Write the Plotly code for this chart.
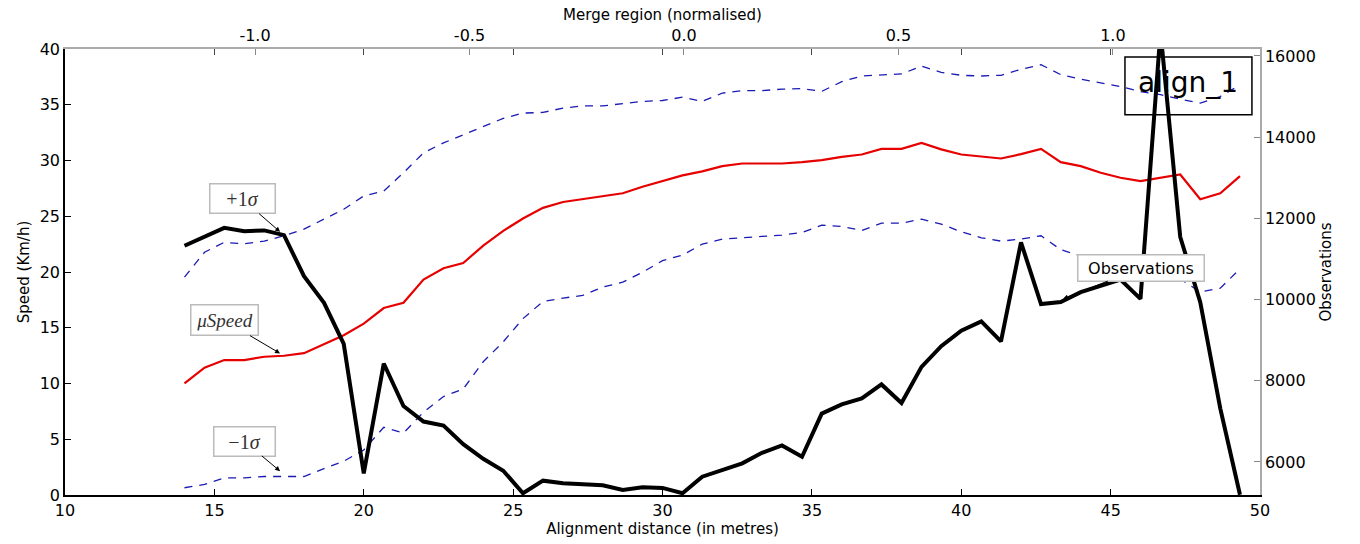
import plotly.graph_objects as go

# ---------------- data ----------------
distance = [14.0, 14.67, 15.33, 16.0, 16.67, 17.33, 18.0, 18.67, 19.33, 20.0,
            20.67, 21.33, 22.0, 22.67, 23.33, 24.0, 24.67, 25.33, 26.0, 26.67,
            27.33, 28.0, 28.67, 29.33, 30.0, 30.67, 31.33, 32.0, 32.67, 33.33,
            34.0, 34.67, 35.33, 36.0, 36.67, 37.33, 38.0, 38.67, 39.33, 40.0,
            40.67, 41.33, 42.0, 42.67, 43.33, 44.0, 44.67, 45.33, 46.0, 46.67,
            47.33, 48.0, 48.67, 49.33]

mean_speed = [10.02, 11.42, 12.10, 12.10, 12.40, 12.49, 12.72, 13.50, 14.33, 15.37,
              16.77, 17.24, 19.32, 20.34, 20.81, 22.36, 23.69, 24.80, 25.75, 26.28,
              26.52, 26.76, 27.06, 27.65, 28.19, 28.66, 29.02, 29.49, 29.73, 29.70,
              29.73, 29.85, 30.03, 30.33, 30.54, 31.04, 31.04, 31.58, 31.00, 30.54,
              30.33, 30.18, 30.57, 31.04, 29.85, 29.49, 28.90, 28.45, 28.15, 28.45,
              28.75, 26.52, 27.06, 28.60]

upper_sigma = [19.54, 21.77, 22.66, 22.53, 22.77, 23.25, 23.84, 24.74, 25.63, 26.82,
               27.26, 28.90, 30.69, 31.58, 32.32, 33.00, 33.78, 34.25, 34.31, 34.70,
               34.90, 34.90, 35.10, 35.30, 35.38, 35.68, 35.30, 36.04, 36.27, 36.27,
               36.40, 36.45, 36.20, 37.07, 37.58, 37.70, 37.76, 38.47, 37.90, 37.64,
               37.58, 37.64, 38.18, 38.59, 37.70, 37.29, 36.93, 36.63, 36.18, 35.90,
               35.50, 35.15, 35.74, 36.78]

lower_sigma = [0.65, 0.95, 1.54, 1.54, 1.66, 1.66, 1.66, 2.37, 3.03, 4.04,
               6.07, 5.56, 7.43, 8.83, 9.51, 11.95, 13.74, 15.82, 17.36, 17.66,
               17.90, 18.64, 19.09, 19.98, 21.02, 21.52, 22.50, 22.95, 23.10, 23.19,
               23.31, 23.55, 24.20, 24.09, 23.73, 24.38, 24.38, 24.74, 24.30, 23.60,
               23.07, 22.77, 22.95, 23.25, 22.00, 21.46, 20.87, 20.28, 19.98, 19.63,
               19.38, 18.20, 18.55, 20.28]

observations = [11324, 11550, 11766, 11684, 11702, 11586, 10574, 9919, 8906, 5719,
                8423, 7376, 6994, 6896, 6437, 6077, 5783, 5228, 5538, 5473,
                5457, 5424, 5310, 5375, 5359, 5228, 5636, 5800, 5964, 6224,
                6405, 6126, 7190, 7418, 7565, 7908, 7450, 8342, 8850, 9232,
                9460, 8970, 11407, 9887, 9936, 10181, 10343, 10490, 10017, 16600,
                11540, 9936, 7320, 5190]

x_ticks = [10, 15, 20, 25, 30, 35, 40, 45, 50]
speed_ticks = [0, 5, 10, 15, 20, 25, 30, 35, 40]
obs_ticks = [6000, 8000, 10000, 12000, 14000, 16000]
obs_labels = ["6000", "8000", "10000", "12000", "14000", "16000"]
merge_ticks = [-1.0, -0.5, 0.0, 0.5, 1.0]
merge_labels = ["-1.0", "-0.5", "0.0", "0.5", "1.0"]

FONT = "DejaVu Sans"
SERIF = "Liberation Serif"
BLUE = "#1a1ab4"
RED = "#e60000"

fig = go.Figure()

# box behind text "align_1" (drawn below traces)
fig.add_shape(type="rect", xref="x", yref="y", x0=45.48, x1=49.73, y0=34.1, y1=39.28,
              line=dict(color="black", width=1.5), fillcolor="white", layer="below")

fig.add_trace(go.Scatter(x=distance, y=upper_sigma, mode="lines",
                         line=dict(color=BLUE, width=1.3, dash="8px,7px"),
                         showlegend=False, hoverinfo="skip"))
fig.add_trace(go.Scatter(x=distance, y=lower_sigma, mode="lines",
                         line=dict(color=BLUE, width=1.3, dash="8px,7px"),
                         showlegend=False, hoverinfo="skip"))
fig.add_trace(go.Scatter(x=distance, y=mean_speed, mode="lines",
                         line=dict(color=RED, width=2.2),
                         showlegend=False, hoverinfo="skip"))
fig.add_trace(go.Scatter(x=[47.59], y=[36.75], mode="text", text=["align_1"],
                         textfont=dict(family=FONT, size=28, color="black"),
                         textposition="middle center", showlegend=False, hoverinfo="skip"))
fig.add_trace(go.Scatter(x=distance, y=observations, mode="lines", yaxis="y2",
                         line=dict(color="black", width=4),
                         showlegend=False, hoverinfo="skip"))
# invisible traces to activate the top axes
fig.add_trace(go.Scatter(x=[merge_ticks[0]], y=[0], xaxis="x2", mode="markers",
                         marker=dict(opacity=0), showlegend=False, hoverinfo="skip"))
fig.add_trace(go.Scatter(x=[x_ticks[0]], y=[0], xaxis="x3", mode="markers",
                         marker=dict(opacity=0), showlegend=False, hoverinfo="skip"))

ann_common = dict(showarrow=True, arrowhead=2, arrowsize=1, arrowwidth=1,
                  arrowcolor="black", bordercolor="#bbbbbb", borderwidth=1.5,
                  bgcolor="white", axref="pixel", ayref="pixel", borderpad=4)

fig.add_annotation(x=17.2, y=23.6, xref="x", yref="y", ax=-38, ay=-33,
                   width=56, height=20,
                   text="+1<i>σ</i>", font=dict(family=SERIF, size=20, color="#333"),
                   **ann_common)
fig.add_annotation(x=17.2, y=12.7, xref="x", yref="y", ax=-56, ay=-33,
                   width=58, height=21,
                   text="<i>μSpeed</i>", font=dict(family=SERIF, size=19, color="#333"),
                   **ann_common)
fig.add_annotation(x=17.2, y=2.14, xref="x", yref="y", ax=-36, ay=-30,
                   width=52, height=20,
                   text="−1<i>σ</i>", font=dict(family=SERIF, size=20, color="#333"),
                   **ann_common)
fig.add_annotation(x=43.41, y=10017, xref="x", yref="y2", ax=78, ay=-31,
                   width=117, height=17,
                   text="Observations", font=dict(family=FONT, size=16, color="black"),
                   **ann_common)

axis_font = dict(family=FONT, size=16, color="black")
title_font = dict(family=FONT, size=15, color="black")

fig.update_layout(
    width=1360, height=544,
    margin=dict(l=65, r=100, t=49, b=47),
    paper_bgcolor="white", plot_bgcolor="white",
    font=dict(family=FONT),
    xaxis=dict(range=[10, 50], tickvals=x_ticks, ticks="inside", ticklen=6,
               tickcolor="black", showline=True, linecolor="black", linewidth=1.5,
               showgrid=False, zeroline=False, tickfont=axis_font,
               title=dict(text="Alignment distance (in metres)", font=title_font, standoff=2)),
    xaxis2=dict(overlaying="x", side="top", anchor="y", range=[-1.443, 1.343],
                tickvals=merge_ticks, ticktext=merge_labels, ticks="inside", ticklen=6,
                tickcolor="#888", showline=True, linecolor="#aaaaaa", linewidth=1.5,
                showgrid=False, zeroline=False, tickfont=axis_font,
                title=dict(text="Merge region (normalised)", font=title_font, standoff=2)),
    xaxis3=dict(overlaying="x", side="top", anchor="y", range=[10, 50],
                tickvals=x_ticks[1:-1], ticks="inside", ticklen=6, tickcolor="#444",
                showticklabels=False, showline=False, showgrid=False, zeroline=False),
    yaxis=dict(range=[0, 40], tickvals=speed_ticks, ticks="inside", ticklen=6,
               tickcolor="black", showline=True, linecolor="black", linewidth=1.5,
               showgrid=False, zeroline=False, tickfont=axis_font,
               title=dict(text="Speed (Km/h)", font=title_font, standoff=6)),
    yaxis2=dict(overlaying="y", side="right", anchor="x", range=[5185, 16170],
                tickvals=obs_ticks, ticktext=obs_labels, ticks="inside", ticklen=6,
                tickcolor="#888", showline=True, linecolor="#aaaaaa", linewidth=1.5,
                showgrid=False, zeroline=False, tickfont=axis_font,
                title=dict(text="Observations", font=title_font, standoff=6)),
)

fig.write_html("out.html")
